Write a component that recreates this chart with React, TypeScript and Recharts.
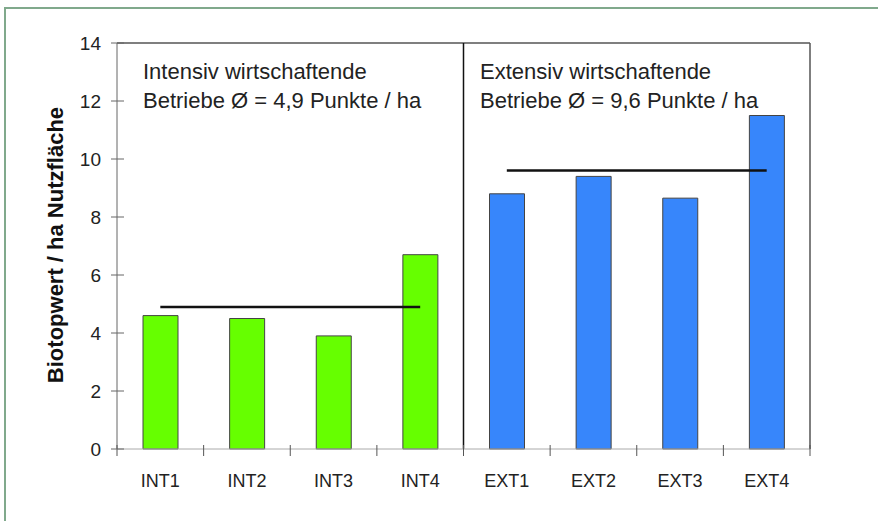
import React from "react";
import {
  ComposedChart,
  Bar,
  Line,
  XAxis,
  YAxis,
  Cell,
  Label,
  ReferenceLine,
} from "recharts";

const categories = ["INT1", "INT2", "INT3", "INT4", "EXT1", "EXT2", "EXT3", "EXT4"];
const values = [4.6, 4.5, 3.9, 6.7, 8.8, 9.4, 8.65, 11.5];
const groups = ["int", "int", "int", "int", "ext", "ext", "ext", "ext"];
const intMean = 4.9;
const extMean = 9.6;
const yTicks = [0, 2, 4, 6, 8, 10, 12, 14];

const FONT = "'Liberation Sans', Arial, sans-serif";
const W = 878;
const H = 521;
const AXIS_X = 117;
const PLOT_RIGHT = 810;
const PLOT_BOTTOM = 449;
const BAND = (PLOT_RIGHT - AXIS_X) / categories.length;

const data = categories.map((name, i) => ({
  name,
  value: values[i],
  intAvg: groups[i] === "int" ? intMean : null,
  extAvg: groups[i] === "ext" ? extMean : null,
}));

const YTick = (props: any) => {
  const { y, payload } = props;
  return (
    <g>
      <line x1={AXIS_X - 6} x2={AXIS_X + 7} y1={y} y2={y} stroke="#666" strokeWidth={1} />
      <text x={AXIS_X - 16} y={y + 7} textAnchor="end" fontSize={19} fill="#222" fontFamily={FONT}>
        {payload.value}
      </text>
    </g>
  );
};

const XTick = (props: any) => {
  const { x, payload, index } = props;
  return (
    <g>
      <line x1={x - BAND / 2} x2={x - BAND / 2} y1={PLOT_BOTTOM - 4} y2={PLOT_BOTTOM + 7} stroke="#555" />
      {index === categories.length - 1 && (
        <line x1={x + BAND / 2} x2={x + BAND / 2} y1={PLOT_BOTTOM - 4} y2={PLOT_BOTTOM + 7} stroke="#555" />
      )}
      <text x={x} y={PLOT_BOTTOM + 38} textAnchor="middle" fontSize={18} fill="#222" fontFamily={FONT}>
        {payload.value}
      </text>
    </g>
  );
};

const Note = ({ left, top, lines }: { left: number; top: number; lines: string[] }) => (
  <div
    style={{
      position: "absolute",
      left,
      top,
      fontFamily: FONT,
      fontSize: 22,
      lineHeight: "29px",
      color: "#222",
      whiteSpace: "nowrap",
    }}
  >
    {lines.map((l) => (
      <div key={l}>{l}</div>
    ))}
  </div>
);

export default function App() {
  return (
    <div style={{ position: "absolute", left: 0, top: 0, width: W, height: H, background: "#fff" }}>
      <div style={{ position: "absolute", left: 4, top: 7, width: W - 4, height: H - 7, borderTop: "2px solid #80a98c", borderLeft: "2px solid #80a98c" }} />
      <div style={{ position: "absolute", left: 0, top: 0 }}>
        <ComposedChart width={W} height={H} data={data} margin={{ top: 43, right: W - PLOT_RIGHT, bottom: 0, left: 0 }}>
          <XAxis
            dataKey="name"
            height={H - PLOT_BOTTOM}
            stroke="#aaa"
            tickLine={false}
            tick={<XTick />}
            interval={0}
          />
          <YAxis
            width={AXIS_X}
            domain={[0, 14]}
            ticks={yTicks}
            stroke="#666"
            tickLine={false}
            tick={<YTick />}
            interval={0}
          >
            <Label
              content={() => (
                <text
                  x={55}
                  y={245}
                  transform="rotate(-90 55 245)"
                  textAnchor="middle"
                  dominantBaseline="central"
                  fontSize={22}
                  fontWeight="bold"
                  fill="#111"
                  fontFamily={FONT}
                >
                  Biotopwert / ha Nutzfläche
                </text>
              )}
            />
          </YAxis>
          <ReferenceLine y={14} stroke="#555" strokeWidth={1.5} />
          <ReferenceLine x="EXT4" position="end" stroke="#555" strokeWidth={1.5} />
          <ReferenceLine x="EXT1" position="start" stroke="#111" strokeWidth={1.5} />
          <Bar dataKey="value" barSize={35} stroke="#444" strokeWidth={1} isAnimationActive={false}>
            {data.map((d, i) => (
              <Cell key={d.name} fill={groups[i] === "int" ? "#66ff00" : "#3786fb"} />
            ))}
          </Bar>
          <Line dataKey="intAvg" stroke="#111" strokeWidth={2.5} dot={false} activeDot={false} isAnimationActive={false} />
          <Line dataKey="extAvg" stroke="#111" strokeWidth={2.5} dot={false} activeDot={false} isAnimationActive={false} />
        </ComposedChart>
      </div>
      <Note left={143} top={57} lines={["Intensiv wirtschaftende", "Betriebe Ø = 4,9 Punkte / ha"]} />
      <Note left={480} top={57} lines={["Extensiv wirtschaftende", "Betriebe Ø = 9,6 Punkte / ha"]} />
    </div>
  );
}
